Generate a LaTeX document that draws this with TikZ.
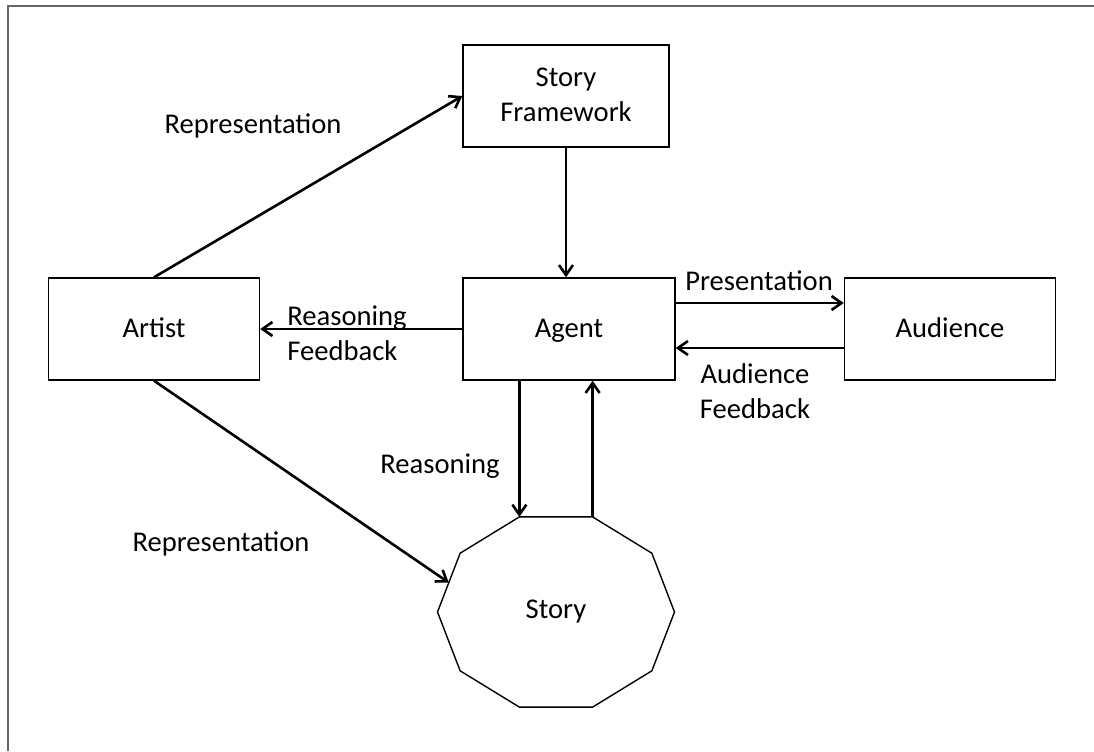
\documentclass[tikz,border=0pt]{standalone}
\usepackage{fontspec}
\setmainfont{Carlito}
\usetikzlibrary{arrows.meta, calc}

\begin{document}
\begin{tikzpicture}[x=0.5pt,y=-0.5pt,
  font=\fontsize{14.3}{17.5}\selectfont,
  block/.style={draw, line width=0.7pt, inner sep=0pt, minimum width=105.5pt, minimum height=51pt, align=center, text depth=1pt},
  link/.style={line width=1.3pt, -{Straight Barb[length=5pt,width=7pt]}},
  tag/.style={inner sep=0pt, align=center}]
\useasboundingbox (0,0) rectangle (1094,751);
\draw[line width=0.8pt, black!60] (1094,6) -- (8,6) -- (8,751);
\node[block, minimum width=103pt] (framework) at (566,96) {Story\\Framework};
\node[block, minimum width=106pt] (agent) at (569,329) {Agent};
\node[block] (audience) at (950,329) {Audience};
\node[block] (artist) at (154,329) {Artist};
\node[tag] (story) at (556,612) {Story};
\path[shift={(story)}] \foreach \i in {0,...,9} {(36*\i:118.5 and 100) coordinate (sv\i)};
\draw[line width=0.7pt] (sv0) \foreach \i in {1,...,9} {-- (sv\i)} -- cycle;
\draw[link] (artist.north) -- (framework.west);
\draw[link] (framework.south) -- (framework.south |- agent.north);
\draw[link] (agent.west) -- (artist.east);
\draw[link] ([yshift=13pt]agent.east) -- ([yshift=13pt]audience.west);
\draw[link] ([yshift=-9.5pt]audience.west) -- ([yshift=-9.5pt]agent.east);
\draw[link] (sv7 |- agent.south) -- (sv7);
\draw[link] (sv8) -- (sv8 |- agent.south);
\draw[link] (artist.south) -- ($(sv5)!0.5!(sv6)$);
\node[tag] (rep1) at (253,126) {Representation};
\node[tag] (rep2) at (221,544) {Representation};
\node[tag] (reas) at (440,466) {Reasoning};
\node[tag, align=left, anchor=west] (reasfb) at (287,333) {Reasoning\\Feedback};
\node[tag] (pres) at (759,281) {Presentation};
\node[tag] (audfb) at (755,391) {Audience\\Feedback};
\end{tikzpicture}
\end{document}
